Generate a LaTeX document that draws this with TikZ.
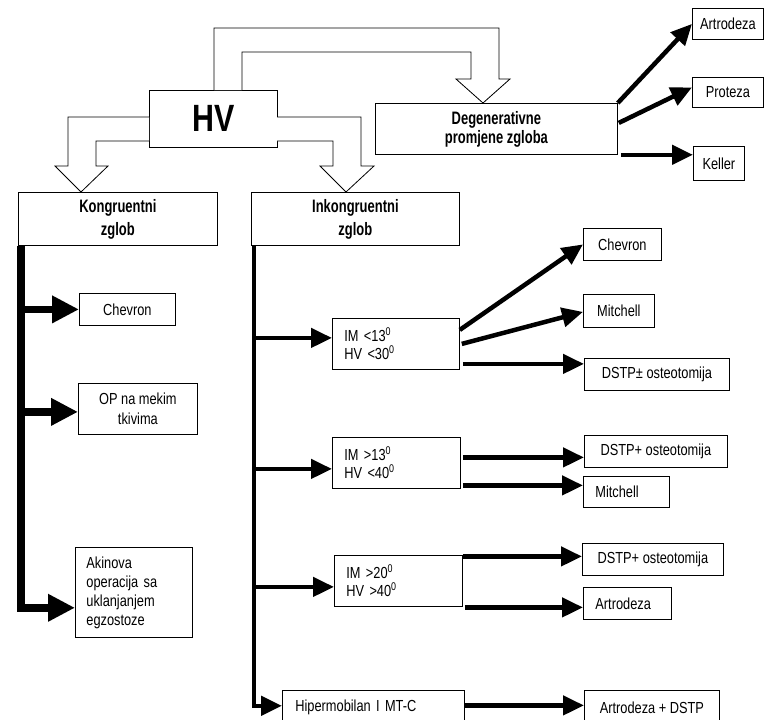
\documentclass[tikz,border=0pt]{standalone}
\usepackage{fontspec}
\usetikzlibrary{arrows.meta,calc}
\newfontfamily\normf{Liberation Sans}[FakeStretch=0.8]
\newfontfamily\boldf{Liberation Sans Bold}[FakeStretch=0.72]
\newfontfamily\hvf{Liberation Sans Bold}[FakeStretch=0.8]
\begin{document}
\begin{tikzpicture}[x=1pt,y=-1pt,
  box/.style={draw, line width=0.8pt, anchor=north west, inner sep=0pt, fill=white,
    font=\normf\fontsize{16}{18}\selectfont, align=center},
  bbox/.style={box, font=\boldf\fontsize{18}{23}\selectfont},
  lbox/.style={box, align=left},
  thk/.style={line width=4.5pt, line join=miter, -{Triangle[length=21pt,width=19pt]}},
  thkk/.style={line width=7.5pt, line join=miter, -{Triangle[length=27pt,width=26pt]}},
  hollow/.style={draw, line width=0.8pt, fill=white, line join=miter}]
\useasboundingbox (0,0) rectangle (764,720);
% main boxes
\node[box, minimum width=128pt, minimum height=57pt, font=\hvf\fontsize{38}{40}\selectfont] (hv) at (149,90) {HV};
\node[bbox, minimum width=242pt, minimum height=51pt, font=\boldf\fontsize{18}{19}\selectfont] (deg) at (375,103) {Degenerativne\\promjene zgloba};
\node[bbox, minimum width=199pt, minimum height=53pt] (kong) at (18,192) {Kongruentni\\zglob};
\node[bbox, minimum width=208pt, minimum height=53pt] (inkong) at (251,192) {Inkongruentni\\zglob};
% degenerative targets
\node[box, minimum width=71pt, minimum height=31pt] (art1) at (692,8) {Artrodeza};
\node[box, minimum width=71pt, minimum height=30pt] (prot) at (692,77) {Proteza};
\node[box, minimum width=51pt, minimum height=34pt] (kel) at (693,146) {Keller};
% kongruentni targets
\node[box, minimum width=96pt, minimum height=32pt] (chev1) at (79,293) {Chevron};
\node[box, minimum width=119pt, minimum height=51pt, font=\normf\fontsize{16}{20}\selectfont] (op) at (78,383) {OP na mekim\\tkivima};
\node[lbox, text width=95pt, inner xsep=11pt, minimum height=90pt, font=\normf\fontsize{16}{19}\selectfont] (ak) at (75,547) {Akinova\\operacija sa\\uklanjanjem\\egzostoze};
% inkongruentni
\node[lbox, text width=103pt, inner xsep=12pt, minimum height=51pt] (im1) at (332,318) {IM <13\textsuperscript{0}\\HV <30\textsuperscript{0}};
\node[lbox, text width=104pt, inner xsep=12pt, minimum height=51pt] (im2) at (332,437) {IM >13\textsuperscript{0}\\HV <40\textsuperscript{0}};
\node[lbox, text width=104pt, inner xsep=12pt, minimum height=51pt] (im3) at (334,555) {IM >20\textsuperscript{0}\\HV >40\textsuperscript{0}};
\node[lbox, text width=156pt, inner xsep=13pt, minimum height=34pt] (hip) at (282,690) {Hipermobilan I MT-C};
\node[box, minimum width=78pt, minimum height=32pt] (chev2) at (583,228) {Chevron};
\node[box, minimum width=71pt, minimum height=33pt] (mit1) at (583,294) {Mitchell};
\node[box, minimum width=145pt, minimum height=32pt] (dstp1) at (584,358) {DSTP± osteotomija};
\node[box, minimum width=143pt, minimum height=32pt] (dstp2) at (584,435) {DSTP+ osteotomija};
\node[lbox, text width=62pt, inner xsep=12pt, minimum height=31pt] (mit2) at (583,476) {Mitchell};
\node[box, minimum width=141pt, minimum height=32pt] (dstp3) at (582,543) {DSTP+ osteotomija};
\node[lbox, text width=64pt, inner xsep=12pt, minimum height=32pt] (art2) at (583,587) {Artrodeza};
\node[box, minimum width=135pt, minimum height=34pt] (ad) at (584,690) {Artrodeza + DSTP};
% hollow arrows from HV
\draw[hollow] (214,90) -- (214,28) -- (499,28) -- (499,79) -- (510,79) -- (483,103) -- (456,79) -- (471,79) -- (471,52) -- (242,52) -- (242,90);
\draw[hollow] (149,117) -- (68,117) -- (68,166) -- (55,166) -- (81,192) -- (108,166) -- (96,166) -- (96,141) -- (149,141);
\draw[hollow] (277,117) -- (361,117) -- (361,166) -- (374,166) -- (346,192) -- (320,166) -- (333,166) -- (333,141) -- (277,141);
% degenerative arrows
\draw[thk] (deg.north east) -- (art1.west);
\draw[thk] ($(deg.east)+(1,-6)$) -- ($(prot.west)+(0,-5)$);
\coordinate (dk) at ($(deg.south east)+(3,0)$);
\draw[thk] (dk) -- (dk -| kel.west);
% kongruentni trunk
\coordinate (kt) at ($(kong.south west)+(3,0)$);
\coordinate (kb) at ($(kt)+(0,362)$);
\draw[thkk] (kt) -- (kb) -- (kb -| ak.west);
\coordinate (k2) at ($(op.west)+(0,3)$);
\draw[thkk] (kt |- chev1.west) -- (chev1.west);
\draw[thkk] (kt |- k2) -- (k2);
% inkongruentni trunk
\coordinate (it) at ($(inkong.south west)+(3,0)$);
\coordinate (ib) at ($(it)+(0,460)$);
\draw[thk] (it) -- (ib) -- (ib -| hip.west);
\coordinate (t1) at ($(im1.west)+(0,-6)$);
\coordinate (t2) at ($(im2.west)+(0,6)$);
\coordinate (t3) at ($(im3.west)+(0,6)$);
\draw[thk] (it |- t1) -- (t1);
\draw[thk] (it |- t2) -- (t2);
\draw[thk] (it |- t3) -- (t3);
% im1 arrows
\draw[thk] ($(im1.east)+(0,-14)$) -- (chev2.west);
\draw[thk] ($(im1.east)+(2,0)$) -- ($(mit1.west)+(0,1)$);
\coordinate (c1) at ($(im1.east)+(3,20)$);
\draw[thk] (c1) -- (c1 -| dstp1.west);
% im2 arrows
\coordinate (c2) at ($(im2.east)+(2,-5.5)$);
\draw[thk] (c2) -- (c2 -| dstp2.west);
\coordinate (c3) at ($(im2.east)+(2,22.5)$);
\draw[thk] (c3) -- (c3 -| mit2.west);
% im3 arrows
\coordinate (c4) at ($(im3.east)+(0,-24.5)$);
\draw[thk] (c4) -- (c4 -| dstp3.west);
\coordinate (c5) at ($(im3.east)+(2,26.5)$);
\draw[thk] (c5) -- (c5 -| art2.west);
% hipermobilan arrow
\coordinate (c6) at ($(hip.east)+(0,-2)$);
\draw[thk] (c6) -- (c6 -| ad.west);
\end{tikzpicture}
\end{document}
